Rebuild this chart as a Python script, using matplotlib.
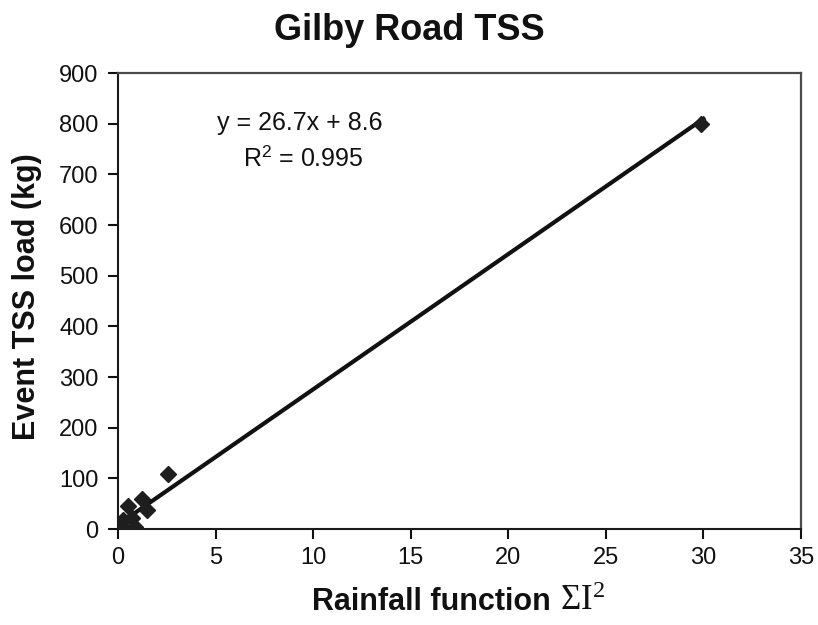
import matplotlib
matplotlib.use("Agg")
import matplotlib.pyplot as plt
import numpy as np

plt.rcParams['font.family'] = ['Liberation Sans', 'DejaVu Sans']
plt.rcParams['mathtext.fontset'] = 'custom'
plt.rcParams['mathtext.rm'] = 'Liberation Serif'
plt.rcParams['mathtext.it'] = 'Liberation Serif'
plt.rcParams['mathtext.sf'] = 'Liberation Sans'

rain_x = [0.15, 0.25, 0.5, 0.7, 0.85, 1.25, 1.5, 2.58, 29.9]
tss_y = [8, 18, 45, 22, 3, 60, 38, 108, 800]
slope = 26.7
intercept = 8.6
fit_x = [0, 30.0]

W, H = 818, 625
fig = plt.figure(figsize=(W / 100, H / 100), dpi=100)
ax = fig.add_axes([118 / W, 1 - 529 / H, 683 / W, 456 / H])

ax.plot(rain_x, tss_y, linestyle='none', marker='D', markersize=8.5,
        color='#1e1e1e', zorder=3)
fx = np.array(fit_x)
ax.plot(fx, slope * fx + intercept, color='#111111', lw=3.0, zorder=2)

ax.set_xlim(0, 35)
ax.set_ylim(0, 900)
ax.set_xticks(np.arange(0, 36, 5))
ax.set_yticks(np.arange(0, 901, 100))
for s in ['top', 'right']:
    ax.spines[s].set_linewidth(1.6)
    ax.spines[s].set_color('#4a4a4a')
for s in ['left', 'bottom']:
    ax.spines[s].set_linewidth(1.5)
    ax.spines[s].set_color('#1a1a1a')
ax.tick_params(direction='out', length=7, width=1.5, labelsize=17, colors='#111111')
ax.tick_params(axis='y', pad=7)
ax.tick_params(axis='x', pad=6)

fig.text(27 / W, 1 - 297 / H, 'Event TSS load (kg)', rotation=90, fontsize=22,
         fontweight='bold', ha='center', va='center', color='#111111')
fig.text(312 / W, 1 - 610 / H, 'Rainfall function', fontsize=22,
         fontweight='bold', ha='left', va='baseline', color='#111111')
fig.text(560 / W, 1 - 610 / H, r'$\Sigma\mathrm{I}^{2}$', fontsize=25,
         ha='left', va='baseline', color='#111111')
fig.text(0.5, 1 - 31 / H, 'Gilby Road TSS', fontsize=26, fontweight='bold',
         ha='center', va='center', color='#111111')

ax.text(9.3, 801, 'y = 26.7x + 8.6', fontsize=18, ha='center', va='center',
        color='#111111')
ax.text(9.5, 732, r'R$^{\mathsf{2}}$ = 0.995', fontsize=18, ha='center',
        va='center', color='#111111')

fig.savefig('out.png', dpi=100)
